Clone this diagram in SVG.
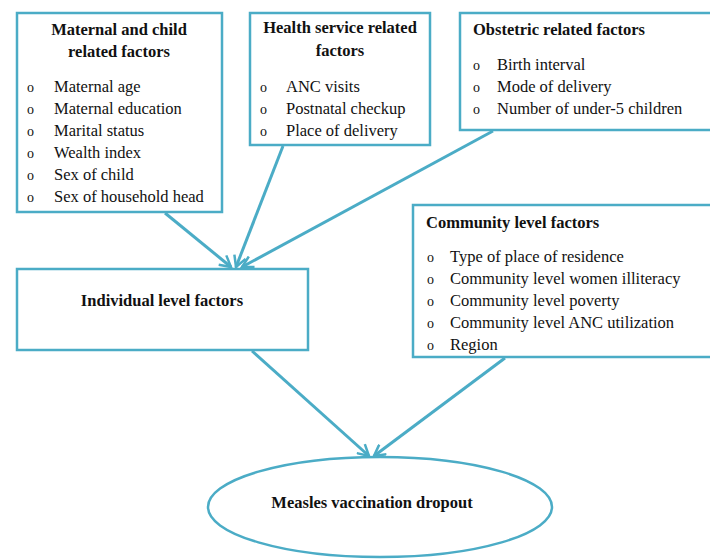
<svg xmlns="http://www.w3.org/2000/svg" width="710" height="559" viewBox="0 0 710 559">
<defs>
<style>
.box{fill:#fff;stroke:#4BACC6;stroke-width:2.5}
.t{font-family:"Liberation Serif","Times New Roman",serif;font-size:16.5px;fill:#111}
.b{font-size:14px}
.h{font-weight:bold}
.c{text-anchor:middle}
.con{stroke:#4BACC6;stroke-width:3;fill:none;marker-end:url(#ah)}
</style>
<marker id="ah" viewBox="0 0 14 14" refX="12" refY="7" markerWidth="14" markerHeight="14" markerUnits="userSpaceOnUse" orient="auto">
<path d="M1,1 L12,7 L1,13" fill="none" stroke="#4BACC6" stroke-width="2.5"/>
</marker>
</defs>
<rect width="710" height="559" fill="#fff"/>
<g id="connectors">
<line class="con" x1="165" y1="213" x2="231" y2="267"/>
<line class="con" x1="283" y1="146" x2="236" y2="267"/>
<line class="con" x1="493" y1="131" x2="242" y2="267"/>
<line class="con" x1="252" y1="351" x2="369" y2="456"/>
<line class="con" x1="505" y1="358" x2="374" y2="456"/>
</g>
<g id="maternal">
<rect class="box" x="17" y="13" width="205" height="199"/>
<text class="t h c" x="119" y="35">Maternal and child</text>
<text class="t h c" x="119" y="57">related factors</text>
<text class="t b" x="27" y="92">o</text><text class="t" x="54" y="92">Maternal age</text>
<text class="t b" x="27" y="114">o</text><text class="t" x="54" y="114">Maternal education</text>
<text class="t b" x="27" y="136">o</text><text class="t" x="54" y="136">Marital status</text>
<text class="t b" x="27" y="158">o</text><text class="t" x="54" y="158">Wealth index</text>
<text class="t b" x="27" y="180">o</text><text class="t" x="54" y="180">Sex of child</text>
<text class="t b" x="27" y="202">o</text><text class="t" x="54" y="202">Sex of household head</text>
</g>
<g id="health">
<rect class="box" x="250" y="13" width="180" height="132"/>
<text class="t h c" x="340" y="33">Health service related</text>
<text class="t h c" x="340" y="56">factors</text>
<text class="t b" x="260" y="92">o</text><text class="t" x="286" y="92">ANC visits</text>
<text class="t b" x="260" y="114">o</text><text class="t" x="286" y="114">Postnatal checkup</text>
<text class="t b" x="260" y="136">o</text><text class="t" x="286" y="136">Place of delivery</text>
</g>
<g id="obstetric">
<rect class="box" x="460" y="13" width="252" height="117"/>
<text class="t h" x="473" y="35">Obstetric related factors</text>
<text class="t b" x="473" y="70">o</text><text class="t" x="497" y="70">Birth interval</text>
<text class="t b" x="473" y="92">o</text><text class="t" x="497" y="92">Mode of delivery</text>
<text class="t b" x="473" y="114">o</text><text class="t" x="497" y="114">Number of under-5 children</text>
</g>
<g id="community">
<rect class="box" x="413" y="205" width="299" height="152"/>
<text class="t h" x="426" y="228">Community level factors</text>
<text class="t b" x="427" y="262">o</text><text class="t" x="450" y="262">Type of place of residence</text>
<text class="t b" x="427" y="284">o</text><text class="t" x="450" y="284">Community level women illiteracy</text>
<text class="t b" x="427" y="306">o</text><text class="t" x="450" y="306">Community level poverty</text>
<text class="t b" x="427" y="328">o</text><text class="t" x="450" y="328">Community level ANC utilization</text>
<text class="t b" x="427" y="350">o</text><text class="t" x="450" y="350">Region</text>
</g>
<g id="individual">
<rect class="box" x="17" y="269" width="291" height="81"/>
<text class="t h c" x="162" y="306">Individual level factors</text>
</g>
<g id="outcome">
<ellipse class="box" cx="380" cy="507" rx="172" ry="50"/>
<text class="t h c" x="372" y="508">Measles vaccination dropout</text>
</g>
</svg>
